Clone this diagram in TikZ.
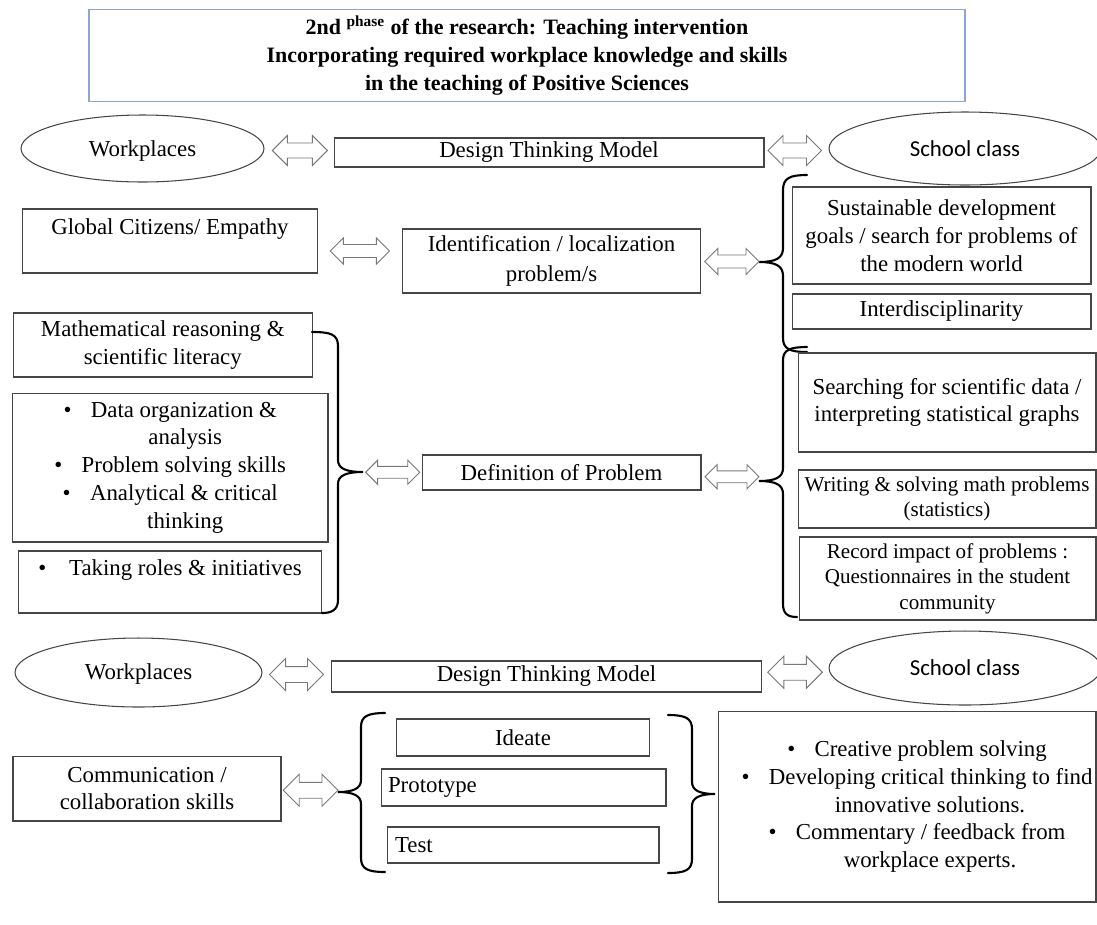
\documentclass[tikz,border=0pt]{standalone}
\usepackage{fontspec}
\setmainfont{Liberation Serif}
\newfontfamily\calfont{Carlito}
\usetikzlibrary{calc,shapes.geometric}
\definecolor{titleblue}{RGB}{140,165,215}
\definecolor{edge}{RGB}{70,70,70}
\definecolor{arrgray}{RGB}{120,120,120}
\tikzset{
  fs/.style={font=\fontsize{13}{15.8}\selectfont},
  fsm/.style={font=\fontsize{12}{14.6}\selectfont},
  box/.style={draw=edge, line width=0.6pt, inner sep=0pt, align=center, fs},
  titlebox/.style={draw=titleblue, line width=0.7pt, inner sep=0pt, align=center,
    font=\bfseries\fontsize{12.5}{15.8}\selectfont},
  oval/.style={draw=edge, line width=0.6pt, ellipse, inner sep=0pt, fs},
  txt/.style={inner sep=0pt, align=center, fs},
  leftbox/.style={box, align=left},
  dblarr/.style={draw=arrgray, line width=0.55pt, fill=white, line join=miter},
  bracesty/.style={draw=black, line width=1.2pt, line cap=round},
}
% hollow double-headed block arrow between two points (size in px)
\newcommand\darr[3][13]{%
  \draw[dblarr] let \p1=#2, \p2=#3 in
    (\x1,{(\y1+\y2)/2})
    -- (\x1+#1*0.02cm,{(\y1+\y2)/2+#1*0.02cm})
    -- (\x1+#1*0.02cm,{(\y1+\y2)/2+#1*0.01cm})
    -- (\x2-#1*0.02cm,{(\y1+\y2)/2+#1*0.01cm})
    -- (\x2-#1*0.02cm,{(\y1+\y2)/2+#1*0.02cm})
    -- (\x2,{(\y1+\y2)/2})
    -- (\x2-#1*0.02cm,{(\y1+\y2)/2-#1*0.02cm})
    -- (\x2-#1*0.02cm,{(\y1+\y2)/2-#1*0.01cm})
    -- (\x1+#1*0.02cm,{(\y1+\y2)/2-#1*0.01cm})
    -- (\x1+#1*0.02cm,{(\y1+\y2)/2-#1*0.02cm})
    -- cycle;}
\begin{document}
\begin{tikzpicture}[x=0.02cm,y=-0.02cm]
\useasboundingbox (0,0) rectangle (1097,924);

% title
\node[titlebox, minimum width=17.52cm, minimum height=1.83cm] (title) at (527,55.5)
  {2nd \textsuperscript{phase} of the research: Teaching intervention\\
   Incorporating required workplace knowledge and skills\\
   in the teaching of Positive Sciences};

% row 1
\node[oval, minimum width=4.86cm, minimum height=1.34cm] (wp1) at (142.5,148.5) {};
\node[txt] (wp1text) at (142.5,151) {Workplaces};
\node[box, minimum width=8.6cm, minimum height=0.58cm] (dtm1) at (549,152.5) {Design Thinking Model};
\node[oval, minimum width=5.44cm, minimum height=1.46cm, font=\calfont\fontsize{13}{15.8}\selectfont] (sc1) at (965,148.5) {School class};
\darr[15]{([xshift=4.5pt]wp1.east)}{([xshift=-3.5pt]dtm1.west)}
\darr[15]{([xshift=2pt]dtm1.east)}{([xshift=-4pt]sc1.west)}

% identification row
\node[box, minimum width=5.9cm, minimum height=1.28cm] (gc) at (170,241) {};
\node[txt, anchor=base] (gctext) at ([yshift=-0.52cm]gc.north) {Global Citizens/ Empathy};
\node[box, font=\fontsize{13}{17}\selectfont, minimum width=5.97cm, minimum height=1.28cm] (ident) at (551.5,261)
  {Identification / localization\\problem/s};
\darr[13]{([xshift=7pt]gc.east)}{([xshift=-7pt]ident.west)}

\node[box, minimum width=5.98cm, minimum height=1.94cm] (sust) at (941.5,235.5)
  {Sustainable development\\goals / search for problems of\\the modern world};
\node[box, minimum width=5.98cm, minimum height=0.7cm] (inter) at (941.5,311.5) {Interdisciplinarity};

\coordinate (t1) at (759,262);
\path[bracesty] (807,175) .. controls (790,175) and (783,178) .. (783,190)
  -- (783,248) .. controls (783,258) and (776,262) .. (t1)
  .. controls (776,262) and (783,266) .. (783,276)
  -- (783,338) .. controls (783,349) and (790,352) .. (807,352);
\darr[13]{([xshift=2pt]ident.east)}{(t1)}

% definition row
\node[box, minimum width=5.99cm, minimum height=1.28cm] (math) at (162.75,345)
  {Mathematical reasoning \&\\scientific literacy};
\node[box, minimum width=6.31cm, minimum height=2.98cm] (bul) at (170.25,467.5)
  {\textbullet\hspace{11pt}Data organization \&\\
   \hspace*{0.6cm}analysis\\
   \textbullet\hspace{11pt}Problem solving skills\\
   \textbullet\hspace{11pt}Analytical \& critical\\
   \hspace*{0.6cm}thinking};
\node[box, minimum width=6.05cm, minimum height=1.24cm] (roles) at (170,582) {};
\node[txt, anchor=base] (rolestext) at ([yshift=-0.5cm]roles.north)
  {\textbullet\hspace{13pt}Taking roles \& initiatives};

\coordinate (t3) at (363,472);
\path[bracesty] (312,332) .. controls (330,332) and (338,334) .. (338,346)
  -- (338,460) .. controls (338,468) and (345,472) .. (t3)
  .. controls (345,472) and (338,476) .. (338,484)
  -- (338,600) .. controls (338,611) and (330,613) .. (322,613);

\node[box, minimum width=5.58cm, minimum height=0.7cm] (defn) at (561.5,472.5) {Definition of Problem};
\darr[12]{([xshift=1.5pt]t3)}{([xshift=-1pt]defn.west)}

\node[box, minimum width=5.96cm, minimum height=1.98cm] (search) at (947,402.5)
  {Searching for scientific data /\\interpreting statistical graphs};
\node[box, fsm, minimum width=5.96cm, minimum height=1.16cm] (writing) at (947,499)
  {Writing \& solving math problems\\(statistics)};
\node[box, fsm, minimum width=5.94cm, minimum height=1.66cm] (record) at (947.5,578.5)
  {Record impact of problems :\\Questionnaires in the student\\community};

\coordinate (t2) at (759,481);
\path[bracesty] (807,347) .. controls (790,347) and (783,350) .. (783,360)
  -- (783,468) .. controls (783,477) and (776,481) .. (t2)
  .. controls (776,481) and (783,485) .. (783,494)
  -- (783,604) .. controls (783,614) and (788,617) .. (797,617);
\darr[12]{([xshift=2pt]defn.east)}{(t2)}

% row 2
\node[oval, minimum width=4.94cm, minimum height=1.38cm] (wp2) at (138.5,672.5) {};
\node[txt] (wp2text) at (138.5,674) {Workplaces};
\node[box, minimum width=8.62cm, minimum height=0.62cm] (dtm2) at (546.5,676.5) {Design Thinking Model};
\node[oval, minimum width=5.44cm, minimum height=1.48cm, font=\calfont\fontsize{13}{15.8}\selectfont] (sc2) at (965,668) {School class};
\darr[16]{([xshift=4pt]wp2.east)}{([xshift=-4pt]dtm2.west)}
\darr[16]{([xshift=3pt]dtm2.east)}{([xshift=-3.5pt]sc2.west)}

% bottom part
\node[box, minimum width=5.36cm, minimum height=1.3cm] (comm) at (147,788.5)
  {Communication /\\collaboration skills};
\node[box, minimum width=5.05cm, minimum height=0.74cm] (ideate) at (523,737.5) {Ideate};
\node[leftbox, text width=5.42cm, inner xsep=0.14cm, minimum height=0.74cm] (proto) at (523.5,787.5) {Prototype};
\node[leftbox, text width=5.12cm, inner xsep=0.16cm, minimum height=0.72cm] (test) at (523,845) {Test};

\coordinate (t4) at (338,792);
\path[bracesty] (385,713) .. controls (368,713) and (361,716) .. (361,727)
  -- (361,780) .. controls (361,788) and (354,792) .. (t4)
  .. controls (354,792) and (361,796) .. (361,804)
  -- (361,858) .. controls (361,869) and (368,872) .. (385,872);
\darr[16]{([xshift=1pt]comm.east)}{(t4)}

\coordinate (t5) at (715,794);
\path[bracesty] (668,715) .. controls (685,715) and (692,718) .. (692,729)
  -- (692,782) .. controls (692,790) and (699,794) .. (t5)
  .. controls (699,794) and (692,798) .. (692,806)
  -- (692,859) .. controls (692,870) and (685,873) .. (668,873);

\node[box, minimum width=7.56cm, minimum height=3.82cm] (skills) at (907,806.5) {};
\node[txt] (skillstext) at (917,806.5)
  {\textbullet\hspace{11pt}Creative problem solving\\
   \textbullet\hspace{11pt}Developing critical thinking to find\\
   \hspace*{0.52cm}innovative solutions.\\
   \textbullet\hspace{11pt}Commentary / feedback from\\
   \hspace*{0.52cm}workplace experts.};
\end{tikzpicture}
\end{document}
